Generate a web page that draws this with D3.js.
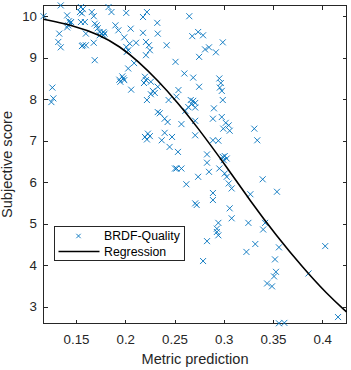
<!DOCTYPE html>
<html>
<head>
<meta charset="utf-8">
<script src="https://cdn.jsdelivr.net/npm/d3@7"></script>
<style>
  body { margin: 0; background: #fff; }
  svg { display: block; font-family: "Liberation Sans", Arial, sans-serif; }
</style>
</head>
<body>
<script>
// scatter values (metric prediction, subjective score)
const metricX = [0.117, 0.1345, 0.141, 0.143, 0.145, 0.144, 0.142, 0.141, 0.133, 0.132, 0.1345, 0.126, 0.127, 0.125,
  0.155, 0.157, 0.154, 0.156, 0.166, 0.155, 0.159, 0.156, 0.157, 0.160, 0.168, 0.169, 0.168, 0.169, 0.171, 0.172,
  0.174, 0.176, 0.178, 0.179, 0.178, 0.174, 0.160, 0.183, 0.186, 0.190, 0.201, 0.193, 0.199, 0.2055, 0.2045, 0.201,
  0.203, 0.2015, 0.211, 0.209, 0.203, 0.197, 0.198, 0.194, 0.195, 0.199, 0.206, 0.218, 0.222, 0.2325, 0.218, 0.233,
  0.221, 0.224, 0.225, 0.221, 0.242, 0.251, 0.220, 0.221, 0.219, 0.226, 0.228, 0.230, 0.226, 0.233, 0.222, 0.244,
  0.254, 0.252, 0.233, 0.235, 0.240, 0.243, 0.257, 0.240, 0.220, 0.223, 0.225, 0.222, 0.2475, 0.237, 0.245, 0.2535,
  0.2505, 0.252, 0.257, 0.265, 0.268, 0.274, 0.279, 0.281, 0.285, 0.292, 0.299, 0.275, 0.260, 0.269, 0.275, 0.2955,
  0.297, 0.296, 0.298, 0.299, 0.2665, 0.269, 0.271, 0.2675, 0.264, 0.271, 0.261, 0.290, 0.271, 0.289, 0.298, 0.302,
  0.305, 0.2995, 0.306, 0.271, 0.289, 0.2945, 0.331, 0.334, 0.283, 0.283, 0.285, 0.2955, 0.299, 0.301, 0.303, 0.300,
  0.274, 0.3395, 0.301, 0.303, 0.262, 0.305, 0.308, 0.289, 0.289, 0.271, 0.2725, 0.306, 0.308, 0.2945, 0.293, 0.293,
  0.2945, 0.283, 0.279, 0.327, 0.354, 0.325, 0.342, 0.340, 0.323, 0.332, 0.356, 0.352, 0.353, 0.351, 0.344, 0.349,
  0.386, 0.403, 0.416, 0.356, 0.3615];
const scoreY = [10.00, 10.26, 10.02, 9.88, 9.86, 9.83, 9.78, 9.73, 9.58, 9.38, 9.25, 8.28, 8.02, 7.93,
  10.22, 10.17, 10.10, 10.07, 10.10, 9.86, 9.86, 9.28, 9.30, 9.30, 9.36, 8.94, 10.00, 9.82, 9.78, 9.71,
  9.62, 9.58, 9.62, 9.58, 9.54, 9.54, 9.58, 10.22, 10.10, 9.78, 10.08, 9.66, 9.49, 9.70, 9.34, 9.26,
  9.18, 9.14, 9.36, 8.87, 8.74, 8.55, 8.50, 8.47, 8.42, 8.46, 8.23, 9.98, 10.10, 9.84, 9.60, 9.58,
  9.38, 9.30, 9.18, 9.06, 9.30, 8.90, 8.54, 8.46, 8.39, 8.42, 8.20, 8.15, 8.12, 8.30, 7.98, 7.98,
  8.22, 8.06, 7.69, 7.66, 7.53, 7.45, 7.40, 7.19, 7.09, 7.17, 7.11, 7.03, 7.09, 7.01, 6.85, 6.73,
  6.33, 6.33, 6.33, 10.00, 9.52, 9.62, 9.54, 9.20, 9.25, 9.13, 9.37, 9.02, 8.62, 8.52, 8.30, 8.50,
  8.39, 8.28, 8.20, 7.98, 7.98, 7.96, 7.91, 7.88, 7.81, 7.80, 7.72, 7.78, 7.48, 7.53, 7.57, 7.43,
  7.37, 7.29, 7.24, 7.13, 7.01, 7.00, 7.29, 7.01, 6.67, 6.47, 6.25, 6.33, 6.61, 6.63, 6.57, 6.53,
  6.13, 6.07, 6.21, 6.13, 5.95, 5.97, 5.85, 5.74, 5.57, 5.49, 5.45, 5.37, 5.13, 5.02, 4.88, 4.80,
  4.72, 4.58, 4.10, 5.71, 5.77, 5.02, 5.02, 4.86, 4.32, 4.51, 4.43, 4.14, 3.84, 3.73, 3.56, 3.49,
  3.80, 4.46, 2.75, 2.60, 2.61];

// regression curve
const regX = [0.117, 0.1472, 0.1743, 0.1946, 0.2129, 0.2332, 0.2535, 0.2718, 0.3023, 0.3266, 0.3537, 0.3807, 0.4045, 0.4246];
const regY = [9.925, 9.78, 9.55, 9.27, 8.92, 8.45, 7.91, 7.37, 6.39, 5.56, 4.70, 3.93, 3.31, 2.875];

const xTicks = [0.15, 0.2, 0.25, 0.3, 0.35, 0.4];
const yTicks = [3, 4, 5, 6, 7, 8, 9, 10];
const seriesNames = ["BRDF-Quality", "Regression"];

const width = 351, height = 370;
const axisColor = "#262626";
const blue = "#0072BD";

const x = d3.scaleLinear().domain([0.117, 0.4246]).range([43.5, 346.5]);
const y = d3.scaleLinear().domain([2.595, 10.258]).range([323.5, 5.5]);

const svg = d3.select("body").append("svg")
  .attr("width", width)
  .attr("height", height);

// axes, ticks pointing inward like matlab
const xAxis = svg.append("g")
  .attr("transform", `translate(0,${y.range()[0]})`)
  .call(d3.axisBottom(x).tickValues(xTicks).tickSize(-4).tickSizeOuter(0).tickPadding(11).tickFormat(d3.format("")));
const xTop = svg.append("g")
  .attr("transform", `translate(0,${y.range()[1]})`)
  .call(d3.axisTop(x).tickValues(xTicks).tickSize(-4).tickSizeOuter(0).tickFormat(""));
const yAxis = svg.append("g")
  .attr("transform", `translate(${x.range()[0]},0)`)
  .call(d3.axisLeft(y).tickValues(yTicks).tickSize(-4).tickSizeOuter(0).tickPadding(6.5));
const yRight = svg.append("g")
  .attr("transform", `translate(${x.range()[1]},0)`)
  .call(d3.axisRight(y).tickValues(yTicks).tickSize(-4).tickSizeOuter(0).tickFormat(""));

[xAxis, xTop, yAxis, yRight].forEach(g => {
  g.select(".domain").remove();
  g.selectAll("line").attr("stroke", axisColor).attr("shape-rendering", "crispEdges");
  g.selectAll("text").attr("fill", axisColor).style("font-size", "13.3px").style("font-family", null);
});

svg.append("rect")
  .attr("x", x.range()[0])
  .attr("y", y.range()[1])
  .attr("width", x.range()[1] - x.range()[0])
  .attr("height", y.range()[0] - y.range()[1])
  .attr("fill", "none")
  .attr("stroke", axisColor)
  .attr("shape-rendering", "crispEdges");

// axis labels
svg.append("text")
  .attr("x", (x.range()[0] + x.range()[1]) / 2)
  .attr("y", 364)
  .attr("text-anchor", "middle")
  .attr("fill", axisColor)
  .style("font-size", "14.6px")
  .text("Metric prediction");

svg.append("text")
  .attr("transform", `translate(12,${(y.range()[0] + y.range()[1]) / 2}) rotate(-90)`)
  .attr("text-anchor", "middle")
  .attr("fill", axisColor)
  .style("font-size", "14.6px")
  .text("Subjective score");

// scatter as x markers
const points = metricX.map((v, i) => ({ x: v, y: scoreY[i] }));
const cross = (cx, cy, r) => `M${cx - r},${cy - r}L${cx + r},${cy + r}M${cx - r},${cy + r}L${cx + r},${cy - r}`;

svg.append("g")
  .selectAll("path")
  .data(points)
  .join("path")
  .attr("d", d => cross(x(d.x), y(d.y), 3))
  .attr("stroke", blue)
  .attr("stroke-width", 0.9)
  .attr("fill", "none");

// regression line
const reg = regX.map((v, i) => ({ x: v, y: regY[i] }));
svg.append("path")
  .datum(reg)
  .attr("d", d3.line().x(d => x(d.x)).y(d => y(d.y)).curve(d3.curveBasis))
  .attr("fill", "none")
  .attr("stroke", "#000")
  .attr("stroke-width", 1.6);

// legend
const legend = svg.append("g");
legend.append("rect")
  .attr("x", 54.5).attr("y", 226.5)
  .attr("width", 130).attr("height", 34)
  .attr("fill", "#fff")
  .attr("stroke", axisColor)
  .attr("shape-rendering", "crispEdges");
legend.append("path")
  .attr("d", cross(78.5, 236, 2.2))
  .attr("stroke", blue)
  .attr("stroke-width", 0.9);
legend.append("line")
  .attr("x1", 58.5).attr("x2", 99.5)
  .attr("y1", 251.5).attr("y2", 251.5)
  .attr("stroke", "#000")
  .attr("stroke-width", 1.6);
legend.selectAll("text")
  .data(seriesNames)
  .join("text")
  .attr("x", 104)
  .attr("y", (d, i) => 236 + i * 15.5)
  .attr("dy", "0.35em")
  .attr("fill", "#000")
  .style("font-size", "12.3px")
  .text(d => d);
</script>
</body>
</html>
